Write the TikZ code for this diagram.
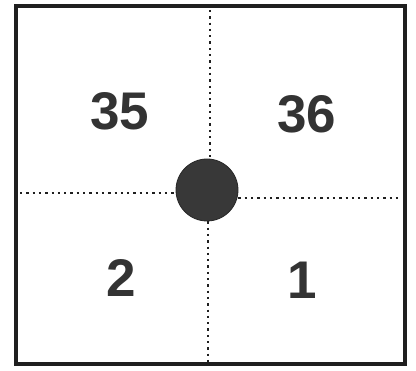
\documentclass[tikz,border=0pt]{standalone}
\usepackage{fontspec}
\setmainfont{Liberation Sans}
\begin{document}
\begin{tikzpicture}[x=1pt,y=-1pt,
  frame/.style={draw=black!88,line width=4pt},
  dotline/.style={draw=black!88,line width=2.3pt,dash pattern=on 2.3pt off 4pt},
  num/.style={font=\fontsize{53}{53}\selectfont\bfseries,text=black!80,inner sep=0pt},
  hub/.style={circle,fill=black!78,draw=black!85,line width=0.8pt,minimum size=62pt,inner sep=0pt}]
\useasboundingbox (0,0) rectangle (416,371);
\fill[white] (0,0) rectangle (416,371);
\node[hub] (c) at (207,190) {};
\coordinate (T) at (210,10);
\coordinate (B) at (208,362);
\coordinate (L) at (20,193);
\coordinate (R) at (398,198);
\draw[dotline] (T) -- (T |- c.north);
\draw[dotline] (B |- c.south) -- (B);
\draw[dotline] (L) -- (L -| c.west);
\draw[dotline] (R -| c.east) -- (R);
\draw[frame] (15.5,6) rectangle (404.5,364.5);
\node[num] (n35) at (120,111) {35};
\node[num] (n36) at (307,114) {36};
\node[num] (n2) at (121,278) {2};
\node[num] (n1) at (302,280) {1};
\end{tikzpicture}
\end{document}
